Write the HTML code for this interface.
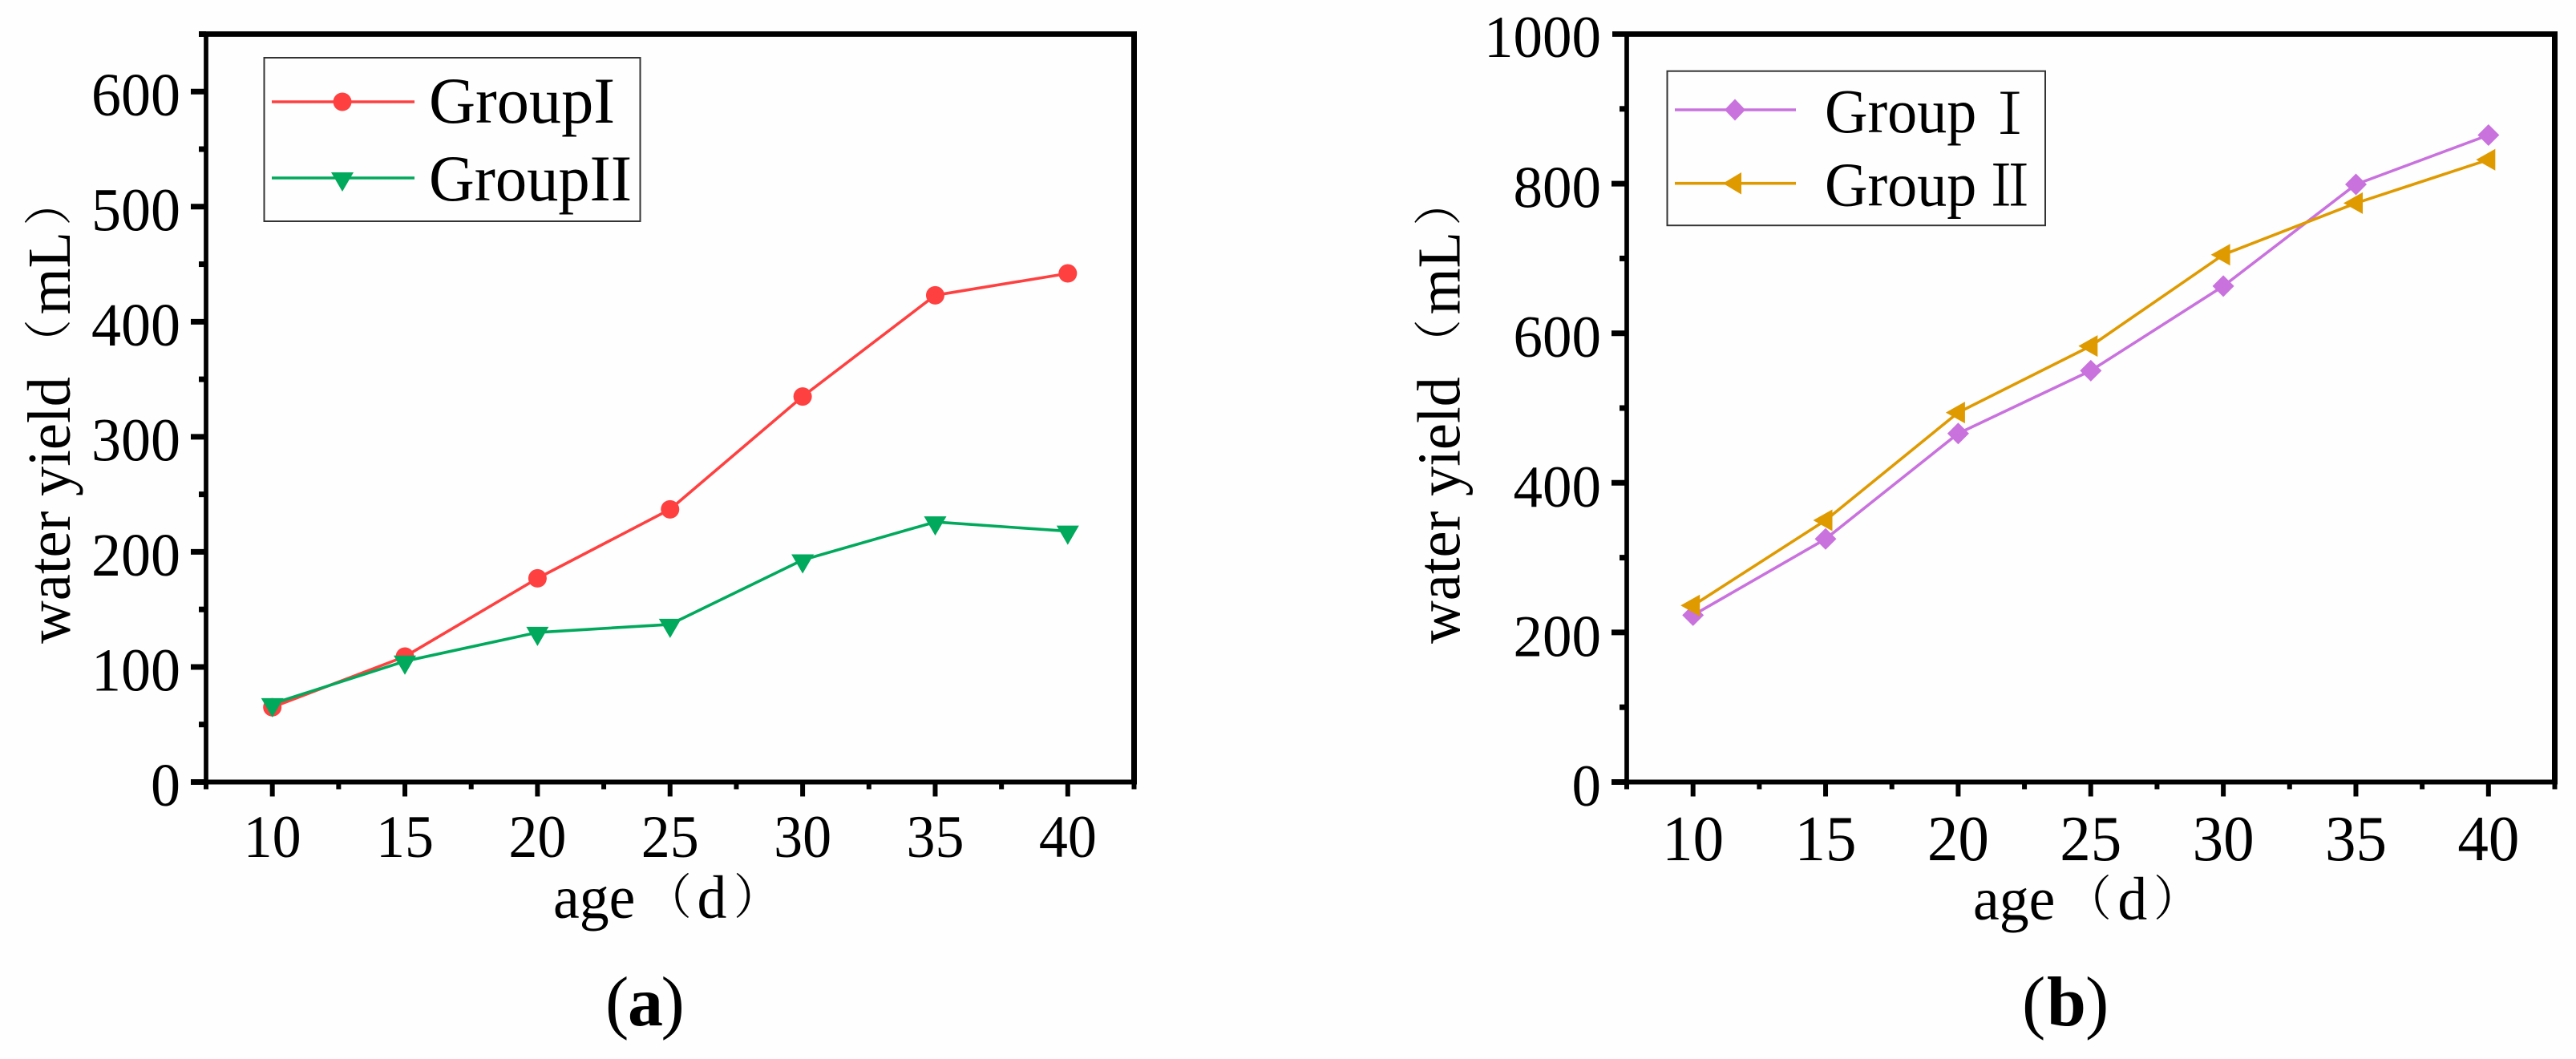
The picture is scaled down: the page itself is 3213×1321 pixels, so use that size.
<!DOCTYPE html>
<html lang="en">
<head>
<meta charset="utf-8">
<title>Water yield vs age</title>
<style>
html,body{margin:0;padding:0;background:#fefefe;}
svg{display:block;}
text{font-family:"Liberation Serif","Noto Serif CJK SC",serif;fill:#000;}
.cjk{font-family:"Noto Serif CJK SC","Liberation Serif",serif;}
</style>
</head>
<body>
<svg id="figure" xmlns="http://www.w3.org/2000/svg" width="3213" height="1321" viewBox="0 0 3213 1321">
  <rect x="0" y="0" width="3213" height="1321" fill="#fefefe"/>

  <g id="chart-a"></g>
  <g id="chart-b"></g>

  <!-- chart a static labels -->
  <text font-size="76" transform="translate(87,803) rotate(-90) scale(.98,1)"><tspan>water yield</tspan><tspan class="cjk" font-size="60" x="353" y="-5">（</tspan><tspan x="419" y="0">mL</tspan><tspan class="cjk" font-size="60" x="532" y="-5">）</tspan></text>
  <text font-size="76" transform="translate(690,1145) scale(.97,1)"><tspan>age</tspan><tspan class="cjk" font-size="60" x="118" y="-5">（</tspan><tspan x="185" y="0">d</tspan><tspan class="cjk" font-size="60" x="232" y="-5">）</tspan></text>
  <text font-size="88" y="1279"><tspan x="755">(</tspan><tspan x="783" font-weight="bold">a</tspan><tspan x="824.5">)</tspan></text>

  <g>
    <rect x="329.5" y="72" width="469" height="204" fill="none" stroke="#333" stroke-width="2"/>
    <line x1="339" y1="127" x2="517" y2="127" stroke="#ff4040" stroke-width="3.6"/>
    <circle cx="427" cy="127" r="11.5" fill="#ff4040"/>
    <text x="535" y="153" font-size="82" textLength="232" lengthAdjust="spacingAndGlyphs">GroupI</text>
    <line x1="339" y1="222" x2="517" y2="222" stroke="#00a95c" stroke-width="3.6"/>
    <polygon points="413,215 441,215 427,239" fill="#00a95c"/>
    <text x="535" y="250" font-size="82" textLength="253" lengthAdjust="spacingAndGlyphs">GroupII</text>
  </g>

  <!-- chart b static labels -->
  <text font-size="76" transform="translate(1820.7,803) rotate(-90) scale(.98,1)"><tspan>water yield</tspan><tspan class="cjk" font-size="60" x="353" y="-5">（</tspan><tspan x="419" y="0">mL</tspan><tspan class="cjk" font-size="60" x="532" y="-5">）</tspan></text>
  <text font-size="76" transform="translate(2461,1147) scale(.97,1)"><tspan>age</tspan><tspan class="cjk" font-size="60" x="118" y="-5">（</tspan><tspan x="186" y="0">d</tspan><tspan class="cjk" font-size="60" x="232" y="-5">）</tspan></text>
  <text font-size="88" y="1279"><tspan x="2522">(</tspan><tspan x="2553" font-weight="bold">b</tspan><tspan x="2601">)</tspan></text>

  <g>
    <rect x="2079.5" y="88.7" width="471.5" height="192.5" fill="none" stroke="#333" stroke-width="2"/>
    <line x1="2089" y1="137" x2="2240" y2="137" stroke="#c972de" stroke-width="3.6"/>
    <polygon points="2164,123.5 2177,137 2164,150.5 2151,137" fill="#c972de"/>
    <text font-size="78" transform="translate(2276,165) scale(.95,1)">Group<tspan class="cjk" font-size="70" x="208" y="2">Ⅰ</tspan></text>
    <line x1="2089" y1="228.7" x2="2240" y2="228.7" stroke="#df9a00" stroke-width="3.6"/>
    <polygon points="2149,228.7 2172,215 2172,242.5" fill="#df9a00"/>
    <text font-size="78" transform="translate(2276,256.7) scale(.95,1)">Group<tspan class="cjk" font-size="70" x="208" y="0">Ⅱ</tspan></text>
  </g>
</svg>

<script>
// ---- data ----
const ages = [10, 15, 20, 25, 30, 35, 40];
const groupIPanelA = [65, 109, 177, 237, 335, 423, 442];
const groupIIPanelA = [68, 105, 130, 137, 193, 226, 218];
const groupIPanelB = [223, 325, 466, 550, 663, 799, 865];
const groupIIPanelB = [236, 350, 494, 583, 705, 774, 832];
const xTickLabels = [10, 15, 20, 25, 30, 35, 40];
const yTickLabelsA = [0, 100, 200, 300, 400, 500, 600];
const yTickLabelsB = [0, 200, 400, 600, 800, 1000];
const xMinorTicks = [7.5, 12.5, 17.5, 22.5, 27.5, 32.5, 37.5, 42.5];
const yMinorTicksA = [50, 150, 250, 350, 450, 550, 650];
const yMinorTicksB = [100, 300, 500, 700, 900];

const NS = 'http://www.w3.org/2000/svg';
function mk(parent, tag, attrs) {
  const el = document.createElementNS(NS, tag);
  for (const k in attrs) el.setAttribute(k, attrs[k]);
  parent.appendChild(el);
  return el;
}

function linear(d0, d1, r0, r1) {
  return function (v) { return r0 + (v - d0) * (r1 - r0) / (d1 - d0); };
}

function pts(list) {
  return list.map(function (p) { return p[0].toFixed(1) + ',' + p[1].toFixed(1); }).join(' ');
}

function drawFrame(g, o, x, y, yTicks, yMinor) {
  const L = x(7.5), R = x(42.5), T = y(o.yMax), B = y(0);
  const ax = [
    ['axis-left', L, T, L, B + 3, 5.7],
    ['axis-top', L - o.topExt, T, R + 3.5, T, 6.7],
    ['axis-bottom', L - 19, B, R + 3.5, B, 6],
    ['axis-right', R, T, R, B + 3, 7]
  ];
  ax.forEach(function (a) {
    const el = mk(g, 'line', { x1: a[1], y1: a[2], x2: a[3], y2: a[4], stroke: '#000', 'stroke-width': a[5] });
    
    
  });
  yTicks.forEach(function (v) {
    const t = mk(g, 'line', { x1: L - 19, y1: y(v), x2: L, y2: y(v), stroke: '#000', 'stroke-width': 7 });
    
    
    const s = mk(g, 'text', { x: o.yLabelX, y: y(v) + 29.5, 'font-size': o.yFont, 'text-anchor': 'end', textLength: String(v).length * o.yDigit, lengthAdjust: 'spacingAndGlyphs' });
    s.textContent = v;
    
    
  });
  yMinor.forEach(function (v) {
    const t = mk(g, 'line', { x1: L - 9, y1: y(v), x2: L, y2: y(v), stroke: '#000', 'stroke-width': 7 });
    
    
  });
  xTickLabels.forEach(function (v) {
    const t = mk(g, 'line', { x1: x(v), y1: B, x2: x(v), y2: B + 18, stroke: '#000', 'stroke-width': 6 });
    
    
    const s = mk(g, 'text', { x: x(v), y: o.xLabelY, 'font-size': o.xFont, 'text-anchor': 'middle', textLength: 2 * o.xDigit, lengthAdjust: 'spacingAndGlyphs' });
    s.textContent = v;
    
    
  });
  xMinorTicks.forEach(function (v) {
    const t = mk(g, 'line', { x1: x(v), y1: B, x2: x(v), y2: B + 9, stroke: '#000', 'stroke-width': 6 });
    
    
  });
}

function drawLine(g, name, color, xs, ys, x, y) {
  const p = mk(g, 'polyline', {
    points: pts(xs.map(function (v, i) { return [x(v), y(ys[i])]; })),
    fill: 'none', stroke: color, 'stroke-width': 3.6, 'stroke-linejoin': 'round'
  });
  
  
}

function drawMarkers(g, name, color, shape, xs, ys, x, y) {
  xs.forEach(function (v, i) {
    const cx = x(v), cy = y(ys[i]);
    let m;
    if (shape === 'circle') {
      m = mk(g, 'circle', { cx: cx, cy: cy, r: 11.5, fill: color });
    } else if (shape === 'down') {
      m = mk(g, 'polygon', { points: pts([[cx - 14, cy - 7], [cx + 14, cy - 7], [cx, cy + 17]]), fill: color });
    } else if (shape === 'diamond') {
      m = mk(g, 'polygon', { points: pts([[cx, cy - 13.5], [cx + 13.5, cy], [cx, cy + 13.5], [cx - 13.5, cy]]), fill: color });
    } else {
      m = mk(g, 'polygon', { points: pts([[cx - 15.5, cy], [cx + 8.5, cy - 13.5], [cx + 8.5, cy + 13.5]]), fill: color });
    }
    
    
  });
}

// panel a
const xA = linear(7.5, 42.5, 257, 1414.5);
const yA = linear(0, 650, 975.5, 42.5);
const gA = document.getElementById('chart-a');
drawFrame(gA, { yMax: 650, topExt: 9, yLabelX: 225, yFont: 76, yDigit: 37, xLabelY: 1069, xFont: 75, xDigit: 36 }, xA, yA, yTickLabelsA, yMinorTicksA);
drawLine(gA, 'group-i-a', '#ff4040', ages, groupIPanelA, xA, yA);
drawMarkers(gA, 'group-i-a', '#ff4040', 'circle', ages, groupIPanelA, xA, yA);
drawLine(gA, 'group-ii-a', '#00a95c', ages, groupIIPanelA, xA, yA);
drawMarkers(gA, 'group-ii-a', '#00a95c', 'down', ages, groupIIPanelA, xA, yA);

// panel b
const xB = linear(7.5, 42.5, 2029, 3186.5);
const yB = linear(0, 1000, 975.5, 42.5);
const gB = document.getElementById('chart-b');
drawFrame(gB, { yMax: 1000, topExt: 18, yLabelX: 1997, yFont: 74, yDigit: 36.5, xLabelY: 1073, xFont: 80, xDigit: 38.5 }, xB, yB, yTickLabelsB.slice(0, 5), yMinorTicksB);
// the 1000 label sits level with the top axis
const topLabel = mk(gB, 'text', { x: 1997, y: 71, 'font-size': 74, 'text-anchor': 'end', textLength: 146, lengthAdjust: 'spacingAndGlyphs' });
topLabel.textContent = yTickLabelsB[5];


drawLine(gB, 'group-i-b', '#c972de', ages, groupIPanelB, xB, yB);
drawMarkers(gB, 'group-i-b', '#c972de', 'diamond', ages, groupIPanelB, xB, yB);
drawLine(gB, 'group-ii-b', '#df9a00', ages, groupIIPanelB, xB, yB);
drawMarkers(gB, 'group-ii-b', '#df9a00', 'left', ages, groupIIPanelB, xB, yB);
</script>
</body>
</html>
